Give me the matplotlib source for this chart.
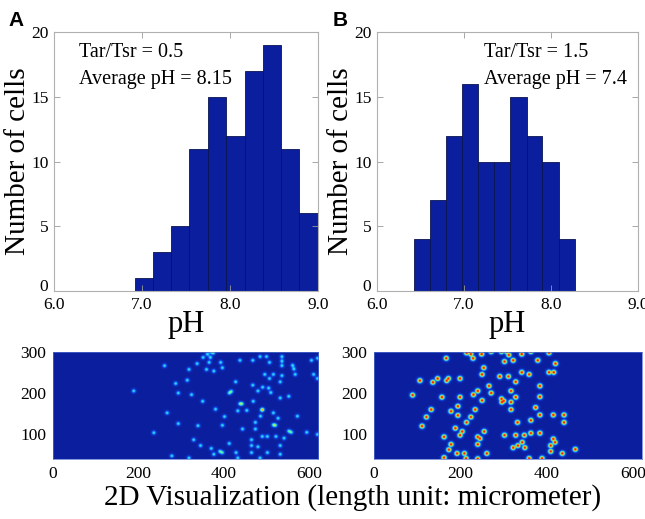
import numpy as np
import matplotlib
matplotlib.use("Agg")
import matplotlib.pyplot as plt
import matplotlib.transforms as mtransforms
from matplotlib.colors import LinearSegmentedColormap

# histogram data (pH bins and cell counts)
edges_a = [6.92, 7.13, 7.33, 7.54, 7.75, 7.96, 8.17, 8.38, 8.58, 8.79, 9.0]
counts_a = [1, 3, 5, 11, 15, 12, 17, 19, 11, 6]
edges_b = [6.42, 6.61, 6.79, 6.98, 7.16, 7.35, 7.53, 7.72, 7.90, 8.09, 8.28]
counts_b = [4, 7, 12, 16, 10, 10, 15, 12, 10, 4]

ratio_a, avg_a = "0.5", "8.15"
ratio_b, avg_b = "1.5", "7.4"

# cell positions in micrometer (x, y)
cells_a_x = [369, 360, 374, 350, 367, 436, 466, 483, 498, 534, 534, 617, 603,
             336, 364, 391, 505, 534, 260, 395, 317, 358, 375, 562, 559,
             494, 514, 534, 505, 530, 565, 608, 617, 313, 286, 426,
             466, 489, 478, 503, 508, 416, 411, 188, 292, 323, 530, 550,
             349, 436, 441, 467, 379, 431, 452, 489, 487, 514, 266,
             400, 484, 525, 570, 292, 338, 395, 472, 514, 519,
             235, 442, 472, 550, 556, 592, 617, 488, 500, 520, 539,
             328, 463, 411, 344, 463, 478, 530, 369, 389, 395, 375, 427, 463, 500, 530,
             277, 317, 431, 483]
cells_a_y = [299, 293, 296, 285, 285, 278, 278, 287, 287, 287, 276, 283, 278,
             270, 273, 273, 273, 265, 265, 260, 256, 256, 252, 257, 266,
             244, 244, 241, 234, 226, 244, 244, 234, 230, 222, 226,
             218, 213, 204, 211, 200, 203, 199, 204, 199, 195, 187, 191,
             179, 173, 173, 179, 160, 156, 157, 159, 158, 151, 151,
             142, 143, 138, 143, 125, 120, 121, 128, 122, 121,
             103, 112, 112, 107, 104, 104, 99, 94, 94, 94, 90,
             86, 86, 77, 72, 72, 69, 72, 65, 58, 55, 51, 55, 55, 55, 51,
             47, 42, 42, 42]

cells_b_x = [214, 220, 224, 229, 249, 271, 295, 307, 312, 342, 363, 405, 167, 302, 322, 379, 420,
             254, 342, 359, 405, 416, 250, 291, 311, 328,
             106, 136, 147, 168, 172, 199,
             266, 384, 271, 240, 317, 230, 89, 157, 199, 250, 295, 300, 296, 317, 328, 384,
             194, 132, 178, 234, 317, 374,
             121, 194, 224, 384, 415, 440, 363, 214, 332, 440,
             111, 188, 204, 255, 199, 162, 240, 245, 302, 328, 348, 363, 384, 415, 419,
             178, 240, 343, 333, 322, 349, 409, 466,
             173, 192, 209, 261, 409, 436,
             162, 213, 240, 359, 389]
cells_b_y = [296, 299, 293, 283, 293, 299, 299, 299, 291, 293, 299, 296, 283, 275, 278, 278, 270,
             260, 249, 244, 249, 249, 244, 239, 239, 226,
             229, 225, 234, 229, 234, 234,
             216, 216, 199, 204, 204, 195, 194, 189, 189, 181, 185, 180, 177, 177, 189, 190,
             167, 159, 155, 159, 159, 164,
             141, 145, 141, 146, 146, 146, 133, 128, 128, 128,
             119, 114, 106, 106, 97, 93, 93, 89, 97, 97, 97, 102, 102, 88, 80,
             75, 75, 80, 72, 67, 67, 72, 63,
             62, 53, 53, 53, 58, 53,
             43, 41, 40, 41, 41]

bar_color = "#0b1f9e"
serif = "Liberation Serif"
cmap = LinearSegmentedColormap.from_list(
    "cells", [(0.0, bar_color), (0.2, "#1248f0"), (0.4, "#22d8ff"),
              (0.6, "#80ff78"), (0.78, "#ffd800"), (1.0, "#ff1a10")])


def hist_panel(fig, ax, edges, counts, ratio, avg, tx):
    edges = np.array(edges)
    ax.bar(edges[:-1], counts, width=np.diff(edges), align="edge",
           color=bar_color, edgecolor="#0a1450", linewidth=0.6)
    ax.set_xlim(6.0, 9.0)
    ax.set_ylim(0, 20)
    ax.set_xticks([6.0, 7.0, 8.0, 9.0])
    ax.set_xticklabels(["6.0", "7.0", "8.0", "9.0"])
    ax.set_yticks([0, 5, 10, 15, 20])
    ax.tick_params(direction="in", top=True, right=True, length=4, width=0.6,
                   color="#999999", labelsize=12.5, pad=4)
    for lab in ax.get_xticklabels() + ax.get_yticklabels():
        lab.set_family(serif)
    # the "0" label sits a little higher in the original
    zero = ax.yaxis.get_major_ticks()[0].label1
    zero.set_transform(zero.get_transform() +
                       mtransforms.ScaledTranslation(0, 4 / 72, fig.dpi_scale_trans))
    for s in ax.spines.values():
        s.set_color("#b0b0b0")
        s.set_linewidth(0.8)
    ax.set_xlabel("pH", family=serif, fontsize=22, labelpad=-2)
    ax.set_ylabel("Number of cells", family=serif, fontsize=21, labelpad=0)
    ax.text(tx, 0.92, "Tar/Tsr = " + ratio, transform=ax.transAxes,
            family=serif, fontsize=14.5, va="center")
    ax.text(tx, 0.815, "Average pH = " + avg, transform=ax.transAxes,
            family=serif, fontsize=14.5, va="center")


def cell_panel(ax, xs, ys, amp, sigma, stack):
    gx = np.arange(0, 621, 1.0)
    gy = np.arange(40, 301, 1.0)
    X, Y = np.meshgrid(gx, gy)
    z = np.zeros_like(X)
    for x, y in zip(xs, ys):
        g = amp * np.exp(-((X - x) ** 2 + (Y - y) ** 2) / (2 * sigma ** 2))
        z = z + g if stack else np.maximum(z, g)
    ax.imshow(np.clip(z, 0, 1), extent=[0, 620, 40, 300], origin="lower",
              aspect="auto", cmap=cmap, vmin=0, vmax=1, interpolation="bilinear")
    ax.set_xlim(0, 620)
    ax.set_ylim(40, 300)
    ax.set_xticks([0, 200, 400, 600])
    ax.set_yticks([100, 200, 300])
    ax.tick_params(length=0, labelsize=12.5, pad=5)
    for lab in ax.get_xticklabels() + ax.get_yticklabels():
        lab.set_family(serif)
    for s in ax.spines.values():
        s.set_color("#5070d0")
        s.set_linewidth(0.5)


fig = plt.figure(figsize=(6.45, 5.19), dpi=100)

ax1 = fig.add_axes([0.0837, 0.4393, 0.409, 0.499])
hist_panel(fig, ax1, edges_a, counts_a, ratio_a, avg_a, 0.095)
ax2 = fig.add_axes([0.5845, 0.4393, 0.4047, 0.499])
hist_panel(fig, ax2, edges_b, counts_b, ratio_b, avg_b, 0.41)

ax3 = fig.add_axes([0.0822, 0.1156, 0.4109, 0.2062])
cell_panel(ax3, cells_a_x, cells_a_y, 0.47, 3.4, True)
ax4 = fig.add_axes([0.5798, 0.1156, 0.4155, 0.2062])
cell_panel(ax4, cells_b_x, cells_b_y, 1.15, 4.0, False)

fig.text(8 / 645, 1 - 11 / 519, "A", family="Liberation Sans", weight="bold",
         fontsize=15, va="top")
fig.text(333 / 645, 1 - 11 / 519, "B", family="Liberation Sans", weight="bold",
         fontsize=15, va="top")
fig.text(0.546, 0.042, "2D Visualization (length unit: micrometer)",
         family=serif, fontsize=21, ha="center", va="center")

fig.savefig("out.png", dpi=100)
